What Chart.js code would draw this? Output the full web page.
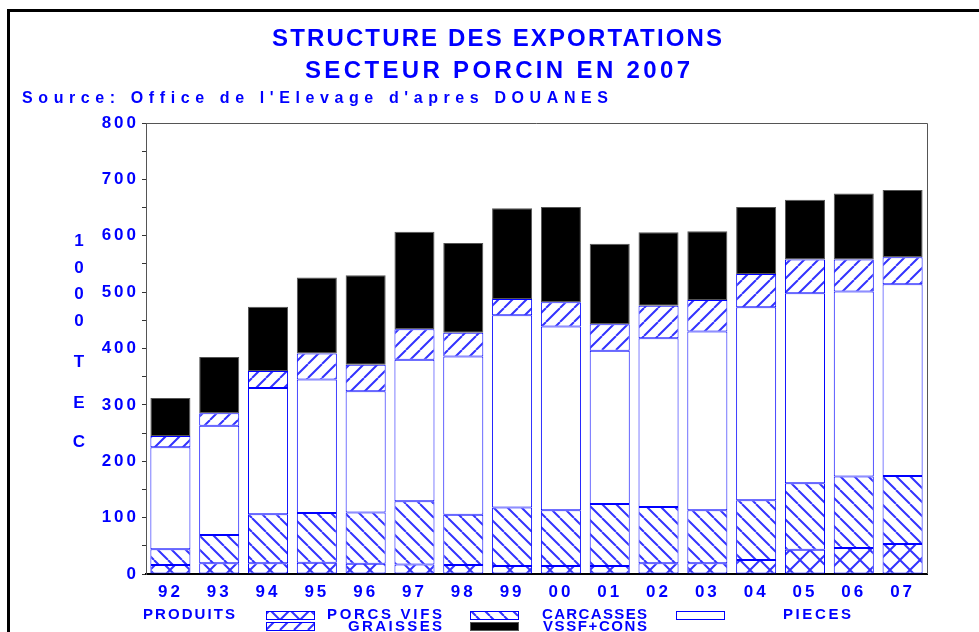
<!DOCTYPE html>
<html>
<head>
<meta charset="utf-8">
<title>Structure des exportations</title>
<script src="https://cdn.jsdelivr.net/npm/chart.js@4.4.1/dist/chart.umd.min.js"></script>
<style>
  body { margin: 0; background: #fff; }
  canvas { display: block; }
</style>
</head>
<body>
<canvas id="myChart" width="979" height="632"></canvas>
<script>
// données (1000 TEC)
const annees = ['92', '93', '94', '95', '96', '97', '98', '99', '00', '01', '02', '03', '04', '05', '06', '07'];
const porcsVifs = [16, 19, 19, 20, 18, 17, 16, 14, 14, 14, 19, 19, 25, 43, 46, 53];
const carcasses = [28, 50, 87, 88, 91, 112, 89, 104, 99, 110, 100, 94, 106, 118, 127, 121];
const pieces = [181, 194, 224, 237, 215, 251, 281, 341, 326, 272, 299, 317, 342, 337, 328, 340];
const graisses = [20, 22, 30, 46, 47, 54, 42, 29, 43, 47, 58, 56, 59, 60, 57, 48];
const vssfCons = [67, 100, 114, 135, 159, 173, 159, 161, 169, 143, 130, 122, 119, 106, 117, 119];

const titre1 = 'STRUCTURE DES EXPORTATIONS';
const titre2 = 'SECTEUR PORCIN EN 2007';
const source = "Source: Office de l'Elevage d'apres DOUANES";
const titreY = '1000 TEC';
const titreLegende = 'PRODUITS';

const BLEU = '#0000ff';
const HACHURE = '#3333ff';

const canvas = document.getElementById('myChart');
const ctx = canvas.getContext('2d');

// motifs de hachures
function hachure(sens, taille) {
  const c = document.createElement('canvas');
  c.width = taille;
  c.height = taille;
  const g = c.getContext('2d');
  g.fillStyle = '#fff';
  g.fillRect(0, 0, taille, taille);
  g.strokeStyle = HACHURE;
  g.lineWidth = 2;
  g.beginPath();
  for (const d of [-taille, 0, taille]) {
    if (sens.includes('/')) {
      g.moveTo(d, taille);
      g.lineTo(d + taille, 0);
    }
    if (sens.includes('\\')) {
      g.moveTo(d, 0);
      g.lineTo(d + taille, taille);
    }
  }
  g.stroke();
  return ctx.createPattern(c, 'repeat');
}

const motifPorcs = hachure('/\\', 20);
const motifCarcasses = hachure('\\', 14);
const motifGraisses = hachure('/', 14);

// texte avec espacement pour tenir dans une largeur donnée
function texteEspace(c, texte, x, y, largeur) {
  c.letterSpacing = '0px';
  const w = c.measureText(texte).width;
  const sp = (largeur - w) / (texte.length - 1);
  c.letterSpacing = sp + 'px';
  c.textAlign = 'left';
  c.fillText(texte, x, y);
  c.letterSpacing = '0px';
}

const decorPlugin = {
  id: 'decor',
  beforeDraw(chart) {
    chart.ctx.letterSpacing = '3px';
  },
  beforeDatasetsDraw(chart) {
    chart.ctx.letterSpacing = '0px';
  },
  afterDatasetsDraw(chart) {
    const c = chart.ctx;
    const a = chart.chartArea;
    c.save();
    c.strokeStyle = '#555';
    c.lineWidth = 1;
    c.beginPath();
    c.moveTo(a.left, a.top + 0.5);
    c.lineTo(a.right + 0.5, a.top + 0.5);
    c.lineTo(a.right + 0.5, a.bottom);
    c.stroke();
    c.restore();
  },
  afterDraw(chart) {
    const c = chart.ctx;
    c.save();
    // cadre
    c.fillStyle = '#000';
    c.fillRect(7, 9, 972, 3);
    c.fillRect(7, 9, 3, 623);

    c.fillStyle = BLEU;
    c.textBaseline = 'alphabetic';
    c.font = 'bold 24px "Liberation Sans Narrow", "Liberation Sans", Arial, sans-serif';
    texteEspace(c, titre1, 272, 46, 450);
    texteEspace(c, titre2, 305, 78, 385);
    c.font = 'bold 16px "Liberation Sans Narrow", "Liberation Sans", Arial, sans-serif';
    texteEspace(c, source, 22, 103, 586);

    // titre vertical de l'axe y
    c.font = 'bold 17px "Liberation Sans", Arial, sans-serif';
    c.textAlign = 'center';
    const posY = [246, 273, 299, 326, 0, 367, 408, 447];
    titreY.split('').forEach((ch, i) => {
      if (ch !== ' ') c.fillText(ch, 79, posY[i]);
    });

    // légende
    c.font = 'bold 15px "Liberation Sans", Arial, sans-serif';
    texteEspace(c, titreLegende, 143, 619, 92);
    const ds = chart.data.datasets;
    const items = [
      { i: 0, sx: 266, sy: 611, tx: 442, ty: 619, w: 115, align: 'right' },
      { i: 3, sx: 266, sy: 622, tx: 442, ty: 631, w: 94, align: 'right' },
      { i: 1, sx: 470, sy: 611, tx: 647, ty: 619, w: 105, align: 'right' },
      { i: 4, sx: 470, sy: 622, tx: 647, ty: 631, w: 104, align: 'right' },
      { i: 2, sx: 676, sy: 611, tx: 783, ty: 619, w: 68, align: 'left' }
    ];
    items.forEach(it => {
      const d = ds[it.i];
      c.fillStyle = d.backgroundColor;
      c.fillRect(it.sx, it.sy, 48, 8);
      c.strokeStyle = d.borderColor;
      c.lineWidth = 1;
      c.strokeRect(it.sx + 0.5, it.sy + 0.5, 48, 8);
      c.fillStyle = BLEU;
      const x = it.align === 'right' ? it.tx - it.w : it.tx;
      texteEspace(c, d.label, x, it.ty, it.w);
    });
    c.restore();
  }
};

const commun = { borderWidth: 1, borderSkipped: false, barPercentage: 0.82, categoryPercentage: 1 };

new Chart(ctx, {
  type: 'bar',
  data: {
    labels: annees,
    datasets: [
      { label: 'PORCS VIFS', data: porcsVifs, backgroundColor: motifPorcs, borderColor: BLEU, ...commun },
      { label: 'CARCASSES', data: carcasses, backgroundColor: motifCarcasses, borderColor: BLEU, ...commun },
      { label: 'PIECES', data: pieces, backgroundColor: '#ffffff', borderColor: BLEU, ...commun },
      { label: 'GRAISSES', data: graisses, backgroundColor: motifGraisses, borderColor: BLEU, ...commun },
      { label: 'VSSF+CONS', data: vssfCons, backgroundColor: '#000000', borderColor: '#555555', ...commun }
    ]
  },
  options: {
    responsive: false,
    animation: false,
    devicePixelRatio: 1,
    layout: { padding: { top: 123, right: 52, left: 0, bottom: 0 } },
    plugins: {
      legend: { display: false },
      title: { display: false },
      tooltip: { enabled: false }
    },
    scales: {
      x: {
        stacked: true,
        afterFit(scale) { scale.height = 58; },
        grid: { display: false, drawTicks: false },
        border: { display: true, color: '#000', width: 2 },
        ticks: {
          color: BLEU,
          padding: 8,
          maxRotation: 0,
          font: { family: '"Liberation Sans", Arial, sans-serif', size: 17, weight: 'bold' }
        }
      },
      y: {
        stacked: true,
        min: 0,
        max: 800,
        afterFit(scale) { scale.width = 146; },
        grid: { drawOnChartArea: false, drawTicks: true, tickLength: 4, color: '#333' },
        border: { display: true, color: '#555', width: 1 },
        ticks: {
          stepSize: 50,
          color: BLEU,
          padding: 3,
          autoSkip: false,
          font: { family: '"Liberation Sans", Arial, sans-serif', size: 17, weight: 'bold' },
          callback: v => (v % 100 === 0 ? v : '')
        }
      }
    }
  },
  plugins: [decorPlugin]
});
</script>
</body>
</html>
